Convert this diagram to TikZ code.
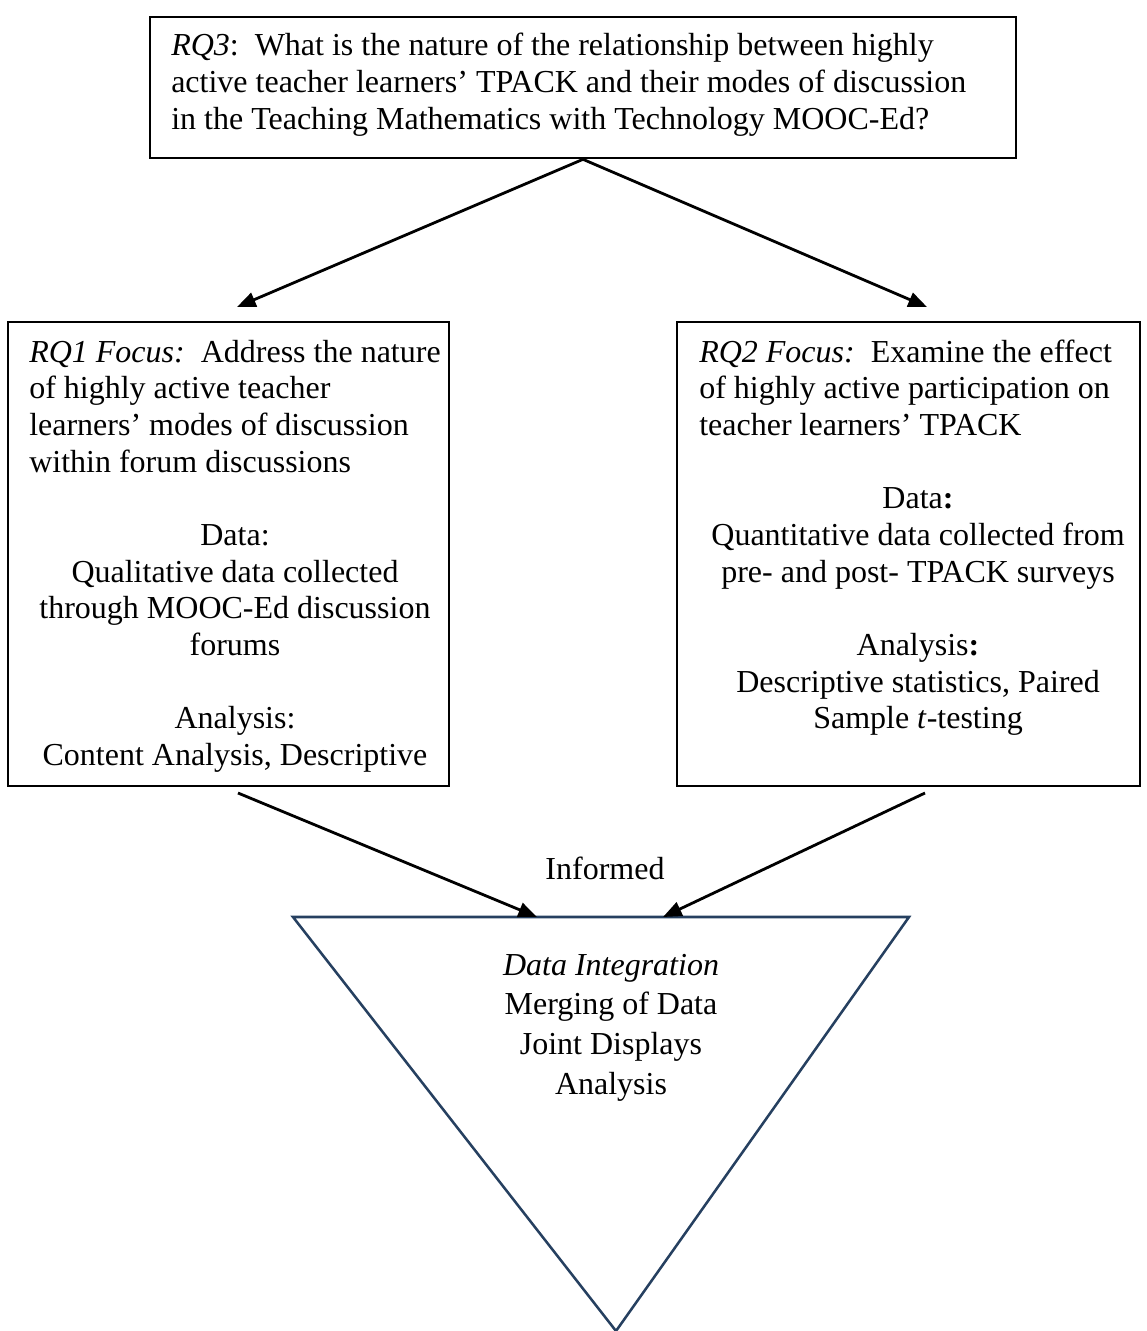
\documentclass[tikz,border=0pt]{standalone}
\usepackage{fontspec}
\setmainfont{Liberation Serif}
\usetikzlibrary{arrows.meta,fit}
\definecolor{trianglecol}{RGB}{38,64,96}
\begin{document}
\begin{tikzpicture}[x=0.75pt,y=-0.75pt,
  every node/.style={font=\fontsize{24}{27.48}\selectfont, inner sep=0pt},
  frame/.style={draw=black, line width=2pt, inner sep=0pt},
  arr/.style={draw=black, line width=2.1pt, -{Triangle[length=14pt,width=11pt]}},
  tri/.style={draw=trianglecol, line width=1.9pt, line join=miter},
  blockL/.style={align=left, anchor=north west},
  blockC/.style={align=center, anchor=north},
]
\useasboundingbox (0,0) rectangle (1146,1331);

% question boxes
\node[frame, fit={(150,17) (1016,158)}] (rq3) {};
\node[frame, fit={(8,322) (449,786)}] (rq1) {};
\node[frame, fit={(677,322) (1140,786)}] (rq2) {};

% RQ3 text
\node[blockL] (rq3txt) at (171,30) {\strut\textit{RQ3}:\ \ What is the nature of the relationship between highly\\
active teacher learners’ TPACK and their modes of discussion\\
in the Teaching Mathematics with Technology MOOC-Ed?};

% RQ1 text
\node[blockL] (rq1focus) at (29,336.35) {\strut\textit{RQ1 Focus:}\ \ Address the nature\\
of highly active teacher\\
learners’ modes of discussion\\
within forum discussions};
\node[blockC] (rq1data) at (235,519.55) {\strut Data:\\
Qualitative data collected\\
through MOOC-Ed discussion\\
forums};
\node[blockC] (rq1anal) at (235,702.75) {\strut Analysis:\\
Content Analysis, Descriptive};

% RQ2 text
\node[blockL] (rq2focus) at (699,336.35) {\strut\textit{RQ2 Focus:}\ \ Examine the effect\\
of highly active participation on\\
teacher learners’ TPACK};
\node[blockC] (rq2data) at (918,482.9) {\strut Data\textbf{:}\\
Quantitative data collected from\\
pre- and post- TPACK surveys};
\node[blockC] (rq2anal) at (918,629.5) {\strut Analysis\textbf{:}\\
Descriptive statistics, Paired\\
Sample \textit{t}-testing};

% integration triangle
\coordinate (triL) at (293,917);
\coordinate (triR) at (909,917);
\coordinate (triB) at (616,1331);
\draw[tri] (triL) -- (triR) -- (triB) -- cycle;
\node[blockC, font=\fontsize{24}{29.75}\selectfont] (integ) at (611,947.2) {\strut\textit{Data Integration}\\
Merging of Data\\
Joint Displays\\
Analysis};

% label between the boxes and the triangle
\node[anchor=base] (informed) at (605,879) {Informed};

% connectors
\coordinate (tipL) at (237,307);
\coordinate (tipR) at (927,307);
\draw[arr] (rq3.south) -- (tipL);
\draw[arr] (rq3.south) -- (tipR);

\coordinate (srcL) at (238,793);
\coordinate (srcR) at (925,793);
\coordinate (inL) at (537,917);
\coordinate (inR) at (663,917);
\draw[arr] (srcL) -- (inL);
\draw[arr] (srcR) -- (inR);
\end{tikzpicture}
\end{document}
